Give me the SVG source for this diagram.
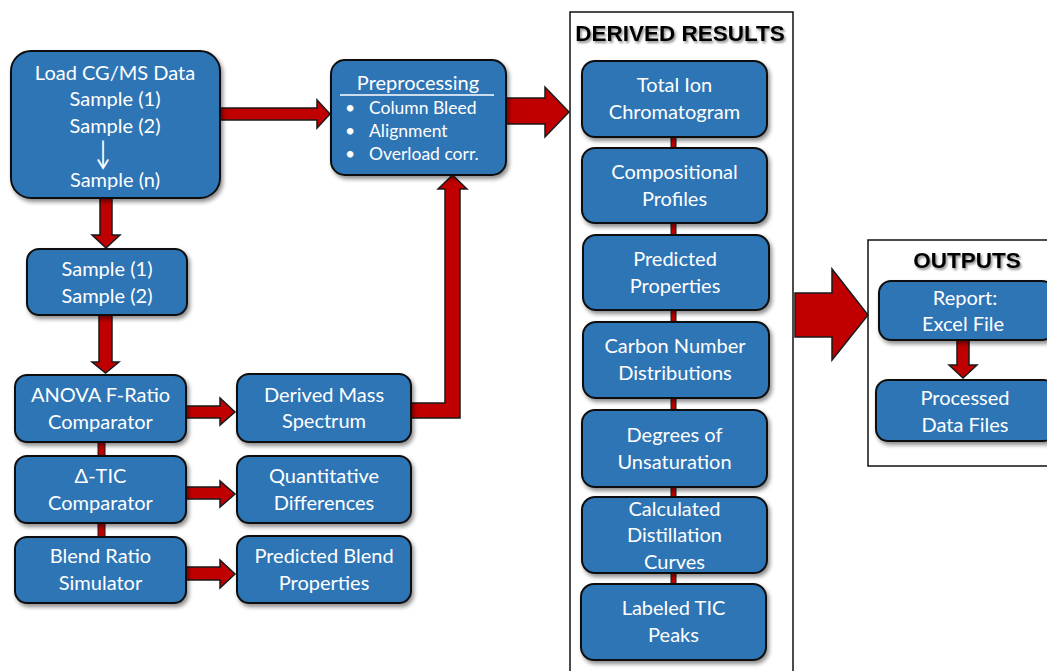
<svg xmlns="http://www.w3.org/2000/svg" width="1047" height="671" viewBox="0 0 1047 671">
<defs>
<filter id="sh" x="-10%" y="-10%" width="130%" height="140%">
<feDropShadow dx="2" dy="3" stdDeviation="2" flood-color="#000" flood-opacity="0.45"/>
</filter>
<filter id="tsh" x="-10%" y="-20%" width="120%" height="160%">
<feDropShadow dx="1.5" dy="2" stdDeviation="1" flood-color="#000" flood-opacity="0.45"/>
</filter>
</defs>
<style>
.node{fill:#2E75B6;stroke:#111;stroke-width:2;filter:url(#sh)}
.t{font-family:Lato,"Liberation Sans",sans-serif;font-size:20px;fill:#fff;text-anchor:middle}
.b{font-family:Lato,"Liberation Sans",sans-serif;font-size:17.5px;fill:#fff}
.arr{fill:#C00000;stroke:#1a1a1a;stroke-width:1.5;stroke-linejoin:miter}
.bar{fill:#C00000;stroke:#1a1a1a;stroke-width:1}
.frame{fill:#fff;stroke:#111;stroke-width:1.5}
.title{font-family:"Liberation Sans",Arial,sans-serif;font-weight:bold;fill:#000;text-anchor:middle;filter:url(#tsh)}
</style>
<rect width="1047" height="671" fill="#fff"/>

<g id="derived-frame">
<rect class="frame" x="570" y="12" width="223" height="680"/>
<text class="title" x="680" y="41" font-size="22.5">DERIVED RESULTS</text>
</g>
<g id="outputs-frame">
<rect class="frame" x="868" y="240" width="200" height="226"/>
<text class="title" x="967" y="268" font-size="22.5">OUTPUTS</text>
</g>

<g id="connectors">
<polygon class="arr" points="220,108 317,108 317,100 330,114 317,128 317,120 220,120"/>
<polygon class="arr" points="506,98 545,98 545,87 569,112 545,137 545,124 506,124"/>
<polygon class="arr" points="100,198 112,198 112,235 120,235 106,248 92,235 100,235"/>
<polygon class="arr" points="99,315 112,315 112,362 119,362 105.5,373 92,362 99,362"/>
<polygon class="arr" points="186,406 220,406 220,398 235,412 220,425 220,418 186,418"/>
<polygon class="arr" points="186,487 220,487 220,481 235,494 220,507 220,499 186,499"/>
<polygon class="arr" points="186,567 220,567 220,560 235,574 220,588 220,580 186,580"/>
<polygon class="arr" points="410,403 445,403 445,189 438,189 452.5,175 467,189 460,189 460,418 410,418"/>
<polygon class="arr" points="795,293 832,293 832,269 868,315 832,360 832,337 795,337"/>
<polygon class="arr" points="957,340 969,340 969,365 977,365 963,378 949,365 957,365"/>
<rect class="bar" x="671" y="136" width="5" height="13"/>
<rect class="bar" x="671" y="222" width="5" height="14"/>
<rect class="bar" x="671" y="309" width="5" height="14"/>
<rect class="bar" x="671" y="397" width="5" height="14"/>
<rect class="bar" x="671" y="486" width="5" height="12"/>
<rect class="bar" x="671" y="572" width="5" height="13"/>
<rect class="bar" x="98" y="441" width="7" height="16"/>
<rect class="bar" x="98" y="522" width="7" height="16"/>
</g>

<g id="n-load">
<rect class="node" x="11" y="51" width="209" height="147" rx="20"/>
<text class="t" x="115" y="80">Load CG/MS Data</text>
<text class="t" x="115" y="106">Sample (1)</text>
<text class="t" x="115" y="133">Sample (2)</text>
<text class="t" font-size="28" font-family="DejaVu Sans,sans-serif" transform="translate(103,164) scale(1,1.65)">↓</text>
<text class="t" x="115" y="187">Sample (n)</text>
</g>
<g id="n-pre">
<rect class="node" x="331" y="60" width="175" height="115" rx="14"/>
<text class="t" x="418" y="90">Preprocessing</text>
<line x1="340" y1="95" x2="494" y2="95" stroke="#fff" stroke-width="1.5"/>
<text class="b" x="345" y="114">•</text><text class="b" x="369" y="114">Column Bleed</text>
<text class="b" x="345" y="137">•</text><text class="b" x="369" y="137">Alignment</text>
<text class="b" x="345" y="160">•</text><text class="b" x="369" y="160">Overload corr.</text>
</g>
<g id="n-samples">
<rect class="node" x="27" y="249" width="160" height="66" rx="12"/>
<text class="t" x="107" y="276">Sample (1)</text>
<text class="t" x="107" y="303">Sample (2)</text>
</g>
<g id="n-anova">
<rect class="node" x="15" y="375" width="171" height="67" rx="12"/>
<text class="t" x="100.5" y="402">ANOVA F-Ratio</text>
<text class="t" x="100.5" y="429">Comparator</text>
</g>
<g id="n-dtic">
<rect class="node" x="15" y="456" width="171" height="67" rx="12"/>
<text class="t" x="100.5" y="483">Δ-TIC</text>
<text class="t" x="100.5" y="510">Comparator</text>
</g>
<g id="n-blend">
<rect class="node" x="15" y="537" width="171" height="66" rx="12"/>
<text class="t" x="100.5" y="563">Blend Ratio</text>
<text class="t" x="100.5" y="590">Simulator</text>
</g>
<g id="n-dms">
<rect class="node" x="237" y="374" width="174" height="68" rx="12"/>
<text class="t" x="324" y="402">Derived Mass</text>
<text class="t" x="324" y="428">Spectrum</text>
</g>
<g id="n-quant">
<rect class="node" x="237" y="456" width="174" height="67" rx="12"/>
<text class="t" x="324" y="483">Quantitative</text>
<text class="t" x="324" y="510">Differences</text>
</g>
<g id="n-pblend">
<rect class="node" x="237" y="536" width="174" height="67" rx="12"/>
<text class="t" x="324" y="563">Predicted Blend</text>
<text class="t" x="324" y="590">Properties</text>
</g>

<g id="n-tic">
<rect class="node" x="582" y="61" width="185" height="76" rx="13"/>
<text class="t" x="674.5" y="92">Total Ion</text>
<text class="t" x="674.5" y="119">Chromatogram</text>
</g>
<g id="n-comp">
<rect class="node" x="582" y="148" width="185" height="75" rx="13"/>
<text class="t" x="674.5" y="179">Compositional</text>
<text class="t" x="674.5" y="206">Profiles</text>
</g>
<g id="n-pprop">
<rect class="node" x="583" y="235" width="186" height="75" rx="13"/>
<text class="t" x="675" y="266">Predicted</text>
<text class="t" x="675" y="293">Properties</text>
</g>
<g id="n-carbon">
<rect class="node" x="583" y="322" width="186" height="76" rx="13"/>
<text class="t" x="675" y="353">Carbon Number</text>
<text class="t" x="675" y="380">Distributions</text>
</g>
<g id="n-unsat">
<rect class="node" x="582" y="410" width="185" height="77" rx="13"/>
<text class="t" x="674.5" y="442">Degrees of</text>
<text class="t" x="674.5" y="469">Unsaturation</text>
</g>
<g id="n-distill">
<rect class="node" x="582" y="497" width="185" height="76" rx="13"/>
<text class="t" x="674.5" y="516">Calculated</text>
<text class="t" x="674.5" y="542">Distillation</text>
<text class="t" x="674.5" y="569">Curves</text>
</g>
<g id="n-peaks">
<rect class="node" x="581" y="584" width="185" height="76" rx="13"/>
<text class="t" x="673.5" y="615">Labeled TIC</text>
<text class="t" x="673.5" y="642">Peaks</text>
</g>

<g id="n-report">
<rect class="node" x="879" y="281" width="175" height="59" rx="12"/>
<text class="t" x="965" y="305">Report:</text>
<text class="t" x="963" y="331">Excel File</text>
</g>
<g id="n-processed">
<rect class="node" x="876" y="380" width="180" height="61" rx="12"/>
<text class="t" x="965" y="405">Processed</text>
<text class="t" x="965" y="432">Data Files</text>
</g>
</svg>
